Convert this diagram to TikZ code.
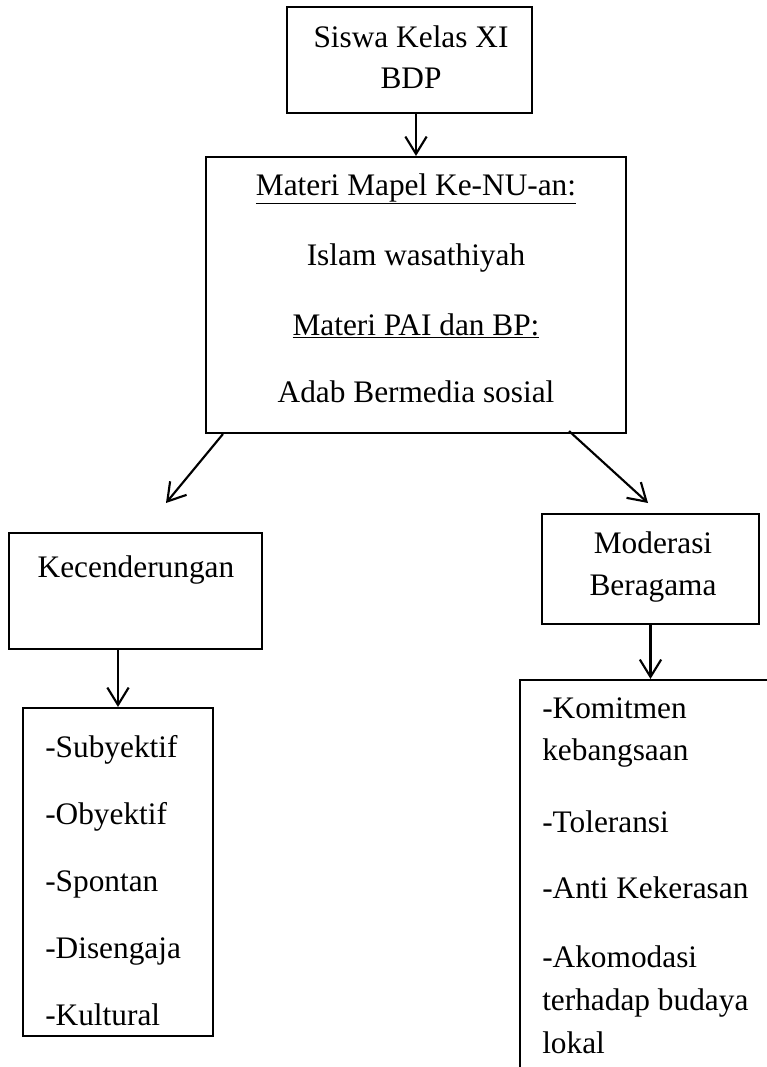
\documentclass[tikz,border=0pt]{standalone}
\usepackage{fontspec}
\setmainfont{Liberation Serif}
\usetikzlibrary{arrows.meta,fit}

\begin{document}
\begin{tikzpicture}[x=0.75pt,y=-0.75pt,
  box/.style={draw,line width=1.6pt,inner sep=0pt},
  txt/.style={inner sep=0pt,font=\fontsize{23.5}{28}\selectfont},
  arr/.style={line width=1.6pt,-{Straight Barb[length=13pt,width=16pt]}}]
  \useasboundingbox (0,0) rectangle (767,1067);
  \clip (0,0) rectangle (767,1067);

  % boxes
  \node[box,fit={(287,7) (532,113)}] (siswa) {};
  \node[box,fit={(206,157) (626,433)}] (materi) {};
  \node[box,fit={(9,533) (262,649)}] (kec) {};
  \node[box,fit={(542,514) (759,624)}] (mod) {};
  \node[box,fit={(23,708) (213,1036)}] (subyek) {};
  \node[box,fit={(520,680) (800,1100)}] (komit) {};

  % texts
  \node[txt,anchor=base] at (411,47) {Siswa Kelas XI};
  \node[txt,anchor=base] at (411,88) {BDP};
  \node[txt,anchor=base] at (416,195) {\underline{Materi Mapel Ke-NU-an:}};
  \node[txt,anchor=base] at (416,265) {Islam wasathiyah};
  \node[txt,anchor=base] at (416,335) {\underline{Materi PAI dan BP:}};
  \node[txt,anchor=base] at (416,402) {Adab Bermedia sosial};
  \node[txt,anchor=base] at (136,577) {Kecenderungan};
  \node[txt,anchor=base] at (653,553) {Moderasi};
  \node[txt,anchor=base] at (653,595) {Beragama};

  \foreach \t [count=\i, evaluate={\y=757+67*(\i-1)}]
     in {Subyektif,Obyektif,Spontan,Disengaja,Kultural}{
    \node[txt,anchor=base west] at (45,\y) {-\t};
  }
  \foreach \t/\y in {-Komitmen/718,kebangsaan/760,-Toleransi/832,
     -Anti Kekerasan/898,-Akomodasi/967,terhadap budaya/1010,lokal/1053}{
    \node[txt,anchor=base west] at (542,\y) {\t};
  }

  % connectors
  \coordinate (kecTip) at (166,503);
  \coordinate (modTip) at (648,503);
  \draw[arr] (siswa.south -| materi.north) -- (materi.north);
  \draw[arr] ([xshift=13.5pt]materi.south west) -- (kecTip);
  \draw[arr] ([xshift=-43.5pt,yshift=2.25pt]materi.south east) -- (modTip);
  \draw[arr] (kec.south -| subyek.north) -- (subyek.north);
  \draw[arr] (mod.south) -- (mod.south |- komit.north);
\end{tikzpicture}
\end{document}
